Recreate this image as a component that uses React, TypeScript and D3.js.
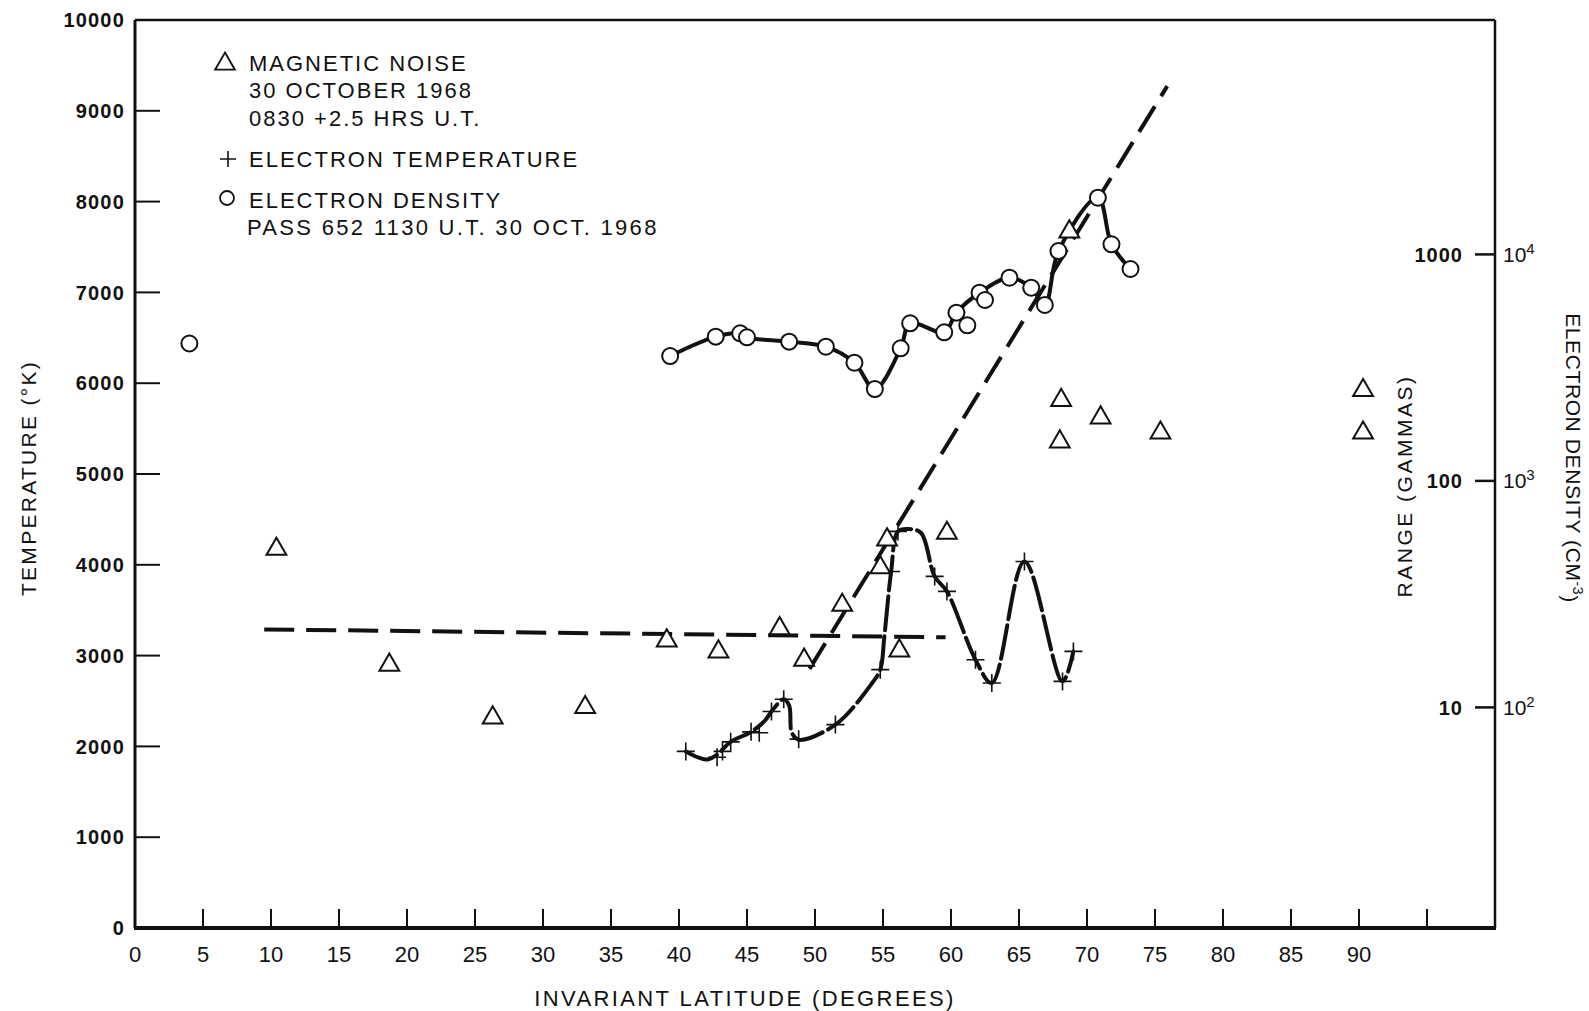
import React from "react";
import * as d3 from "d3";

// magnetic noise range (gammas), right inner scale
const noiseLat = [10.4, 18.7, 26.3, 33.1, 39.1, 42.9, 47.4, 49.2, 52.0, 54.8, 55.3, 56.2, 59.7, 68.0, 68.1, 68.7, 71.0, 75.4, 90.3, 90.3];
const noiseGamma = [50, 15.4, 9.0, 10.0, 19.7, 17.6, 22.3, 16.2, 28.3, 41.4, 55, 17.8, 58.8, 149, 227, 1259, 190, 163, 251, 163];

// electron temperature (K), left scale
const tempLat = [40.5, 42.8, 43.2, 43.8, 45.3, 45.9, 46.8, 47.7, 48.8, 51.5, 54.8, 55.6, 56.1, 58.8, 59.7, 61.8, 63.0, 65.4, 68.2, 69.0];
const tempK = [1945, 1880, 1945, 2050, 2160, 2150, 2385, 2520, 2080, 2240, 2845, 3927, 4368, 3872, 3707, 2955, 2698, 4037, 2716, 3046];

// traced curve through the temperature crosses
const tempCurveLat = [40.5, 41.4, 42.1, 42.8, 43.8, 45.3, 46.3, 46.8, 47.7, 48.1, 48.3, 48.8, 51.5, 54.2, 54.8, 55.1, 55.6, 56.1, 56.9, 57.8, 58.8, 59.7, 61.8, 63.0, 65.4, 68.2, 69.0];
const tempCurveK = [1945, 1880, 1855, 1909, 2050, 2160, 2280, 2385, 2520, 2450, 2150, 2074, 2239, 2698, 2845, 3211, 3927, 4368, 4394, 4350, 3872, 3707, 2955, 2698, 4037, 2716, 3046];

// electron density (cm^-3), right outer scale
const densLat = [39.35, 42.7, 44.5, 45.0, 48.1, 50.8, 52.9, 54.4, 56.3, 57.0, 59.5, 60.4, 61.2, 62.1, 62.5, 64.3, 65.9, 66.9, 67.9, 70.8, 71.8, 73.2];
const densVal = [3558, 4334, 4485, 4305, 4120, 3913, 3325, 2545, 3849, 4964, 4529, 5532, 4864, 6774, 6290, 7890, 7130, 5980, 10350, 17800, 11080, 8620];
const densOnLine = [1, 1, 1, 1, 1, 1, 1, 1, 1, 1, 1, 1, 0, 1, 0, 1, 1, 1, 1, 1, 1, 1];
const densOutlierLat = [4.0];
const densOutlierVal = [4042];

// dashed fit lines (gammas)
const flatFitLat = [9.5, 59.6];
const flatFitGamma = [22.1, 20.4];
const steepFitLat = [49.6, 75.9];
const steepFitGamma = [14.8, 5534];

// ticks
const tempTicks = [0, 1000, 2000, 3000, 4000, 5000, 6000, 7000, 8000, 9000, 10000];
const latTicks = [0, 5, 10, 15, 20, 25, 30, 35, 40, 45, 50, 55, 60, 65, 70, 75, 80, 85, 90, 95];
const latLabels = ["0", "5", "10", "15", "20", "25", "30", "35", "40", "45", "50", "55", "60", "65", "70", "75", "80", "85", "90", ""];
const rangeTicks = [10, 100, 1000];
const densExp = ["2", "3", "4"];

const W = 1589;
const H = 1011;
const FONT = "'Liberation Sans', Arial, Helvetica, sans-serif";

export default function App() {
  const x = d3.scaleLinear().domain([0, 100]).range([135, 1495]);
  const yT = d3.scaleLinear().domain([0, 10000]).range([928, 20]);
  const yG = d3.scaleLog().domain([10, 1000]).range([707.4, 254.4]);
  const yD = d3.scaleLog().domain([100, 10000]).range([707.4, 254.4]);

  const tri = d3.symbol(d3.symbolTriangle, 170)()!;

  const tempLine = d3
    .line<number>()
    .x((_, i) => x(tempCurveLat[i]))
    .y((_, i) => yT(tempCurveK[i]))
    .curve(d3.curveCatmullRom.alpha(0.5));

  const densIdx = densLat.map((_, i) => i).filter((i) => densOnLine[i]);
  const densLine = d3
    .line<number>()
    .x((i) => x(densLat[i]))
    .y((i) => yD(densVal[i]))
    .curve(d3.curveCatmullRom.alpha(0.5));

  const fitLine = (lats: number[], gs: number[]) =>
    d3
      .line<number>()
      .x((_, i) => x(lats[i]))
      .y((_, i) => yG(gs[i]))(lats)!;

  const x0 = x(0);
  const x1 = x(100);
  const yTop = yT(10000);
  const yBot = yT(0);

  return (
    <svg width={W} height={H} style={{ position: "absolute", left: 0, top: 0, background: "#fff" }} fontFamily={FONT}>
      <rect width={W} height={H} fill="#fff" />

      {/* frame */}
      <line x1={x0} y1={yTop} x2={x1} y2={yTop} stroke="#111" strokeWidth={2.5} />
      <line x1={x0} y1={yTop} x2={x0} y2={yBot} stroke="#111" strokeWidth={3} />
      <line x1={x1} y1={yTop} x2={x1} y2={yBot} stroke="#111" strokeWidth={2.5} />
      <line x1={x0 - 1} y1={yBot} x2={x1 + 1} y2={yBot} stroke="#111" strokeWidth={4} />

      {/* left axis */}
      {tempTicks.map((t) => (
        <g key={"t" + t}>
          {t > 0 && t < 10000 && <line x1={x0} x2={x0 + 25} y1={yT(t)} y2={yT(t)} stroke="#111" strokeWidth={2} />}
          <text x={x0 - 10} y={yT(t)} dy="0.36em" textAnchor="end" fontSize={20} fontWeight="bold" letterSpacing={1.2} fill="#111">
            {t}
          </text>
        </g>
      ))}

      {/* bottom axis */}
      {latTicks.map((l, i) => (
        <g key={"l" + l}>
          {l > 0 && <line x1={x(l)} x2={x(l)} y1={yBot} y2={yBot - 19} stroke="#111" strokeWidth={2} />}
          <text x={x(l)} y={yBot + 34} textAnchor="middle" fontSize={22} fill="#111">
            {latLabels[i]}
          </text>
        </g>
      ))}

      {/* right axis */}
      {rangeTicks.map((g, i) => (
        <g key={"g" + g}>
          <line x1={x1 - 20} x2={x1} y1={yG(g)} y2={yG(g)} stroke="#111" strokeWidth={2.5} />
          <text x={x1 - 32} y={yG(g)} dy="0.36em" textAnchor="end" fontSize={20} fontWeight="bold" letterSpacing={1} fill="#111">
            {g}
          </text>
          <text x={x1 + 8} y={yG(g)} dy="0.36em" fontSize={21} fill="#111">
            10
            <tspan dy="-0.55em" fontSize={15}>
              {densExp[i]}
            </tspan>
          </text>
        </g>
      ))}

      {/* axis titles */}
      <text x={745} y={998} dy="0.36em" textAnchor="middle" fontSize={22} letterSpacing={2.4} fill="#111">
        INVARIANT LATITUDE (DEGREES)
      </text>
      <text transform="translate(28,478) rotate(-90)" dy="0.36em" textAnchor="middle" fontSize={21} letterSpacing={2.3} fill="#111">
        TEMPERATURE (°K)
      </text>
      <text transform="translate(1404,486) rotate(-90)" dy="0.36em" textAnchor="middle" fontSize={21} letterSpacing={2.5} fill="#111">
        RANGE (GAMMAS)
      </text>
      <text transform="translate(1574,458) rotate(90)" dy="0.36em" textAnchor="middle" fontSize={21} letterSpacing={0.6} fill="#111">
        ELECTRON DENSITY (CM
        <tspan dy="-0.5em" fontSize={14}>-3</tspan>
        <tspan dy="0.5em">)</tspan>
      </text>

      {/* legend */}
      <g fontSize={22} letterSpacing={2} fill="#111">
        <path d={tri} transform="translate(225,64)" fill="none" stroke="#111" strokeWidth={1.8} />
        <text x={249} y={63} dy="0.36em">MAGNETIC NOISE</text>
        <text x={249} y={90} dy="0.36em">30 OCTOBER 1968</text>
        <text x={249} y={118} dy="0.36em">0830 +2.5 HRS U.T.</text>
        <path d="M220,159h16M228,151v16" stroke="#111" strokeWidth={1.6} />
        <text x={249} y={159} dy="0.36em">ELECTRON TEMPERATURE</text>
        <circle cx={227} cy={198} r={7} fill="none" stroke="#111" strokeWidth={1.8} />
        <text x={249} y={200} dy="0.36em">ELECTRON DENSITY</text>
        <text x={247} y={227} dy="0.36em" letterSpacing={2.3}>PASS 652 1130 U.T. 30 OCT. 1968</text>
      </g>

      {/* dashed fits */}
      <path d={fitLine(flatFitLat, flatFitGamma)} fill="none" stroke="#111" strokeWidth={4} strokeDasharray="30 12" />
      <path d={fitLine(steepFitLat, steepFitGamma)} fill="none" stroke="#111" strokeWidth={4} strokeDasharray="30 12" />

      {/* temperature curve and crosses */}
      <path d={tempLine(tempCurveLat)!} fill="none" stroke="#111" strokeWidth={4} strokeDasharray="34 6" strokeLinecap="round" />
      {tempLat.map((l, i) => (
        <path
          key={"c" + i}
          d={`M${x(l) - 9},${yT(tempK[i])}h18M${x(l)},${yT(tempK[i]) - 9}v18`}
          stroke="#111"
          strokeWidth={1.6}
        />
      ))}

      {/* density curve and circles */}
      <path d={densLine(densIdx)!} fill="none" stroke="#111" strokeWidth={4} />
      {densLat.map((l, i) => (
        <circle key={"d" + i} cx={x(l)} cy={yD(densVal[i])} r={8} fill="#fff" stroke="#111" strokeWidth={2} />
      ))}
      {densOutlierLat.map((l, i) => (
        <circle key={"o" + i} cx={x(l)} cy={yD(densOutlierVal[i])} r={8} fill="#fff" stroke="#111" strokeWidth={2} />
      ))}

      {/* magnetic noise triangles */}
      {noiseLat.map((l, i) => (
        <path
          key={"n" + i}
          d={tri}
          transform={`translate(${x(l)},${yG(noiseGamma[i])})`}
          fill="#fff"
          stroke="#111"
          strokeWidth={2}
        />
      ))}
    </svg>
  );
}
